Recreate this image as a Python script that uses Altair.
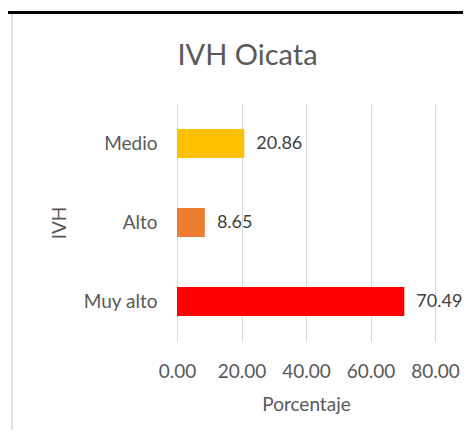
import altair as alt
import pandas as pd

categorias = ["Medio", "Alto", "Muy alto"]
porcentajes = [20.86, 8.65, 70.49]
colores = ["#FFC000", "#ED7D31", "#FF0000"]
ticks_x = [0, 20, 40, 60, 80]
titulo = "IVH Oicata"

df = pd.DataFrame({"IVH": categorias, "Porcentaje": porcentajes, "color": colores})

FONT = "Lato"
GRAY = "#595959"
W, H = 258, 237

y = alt.Y(
    "IVH:N",
    sort=categorias,
    scale=alt.Scale(paddingInner=0.633, paddingOuter=0.3165),
    axis=alt.Axis(
        title="IVH", labelFont=FONT, labelFontSize=19, labelColor=GRAY,
        labelPadding=20, ticks=False, tickSize=0, domain=False, grid=False,
        titleFont=FONT, titleFontSize=19, titleFontWeight="normal", titleColor=GRAY,
        titleAngle=-90, titleX=-112, titleY=118.5, titleAlign="center",
        titleBaseline="alphabetic",
    ),
)
x = alt.X(
    "Porcentaje:Q",
    scale=alt.Scale(domain=[0, 80], nice=False),
    axis=alt.Axis(
        values=ticks_x, format=".2f", grid=True, gridColor="#D9D9D9", gridWidth=1,
        ticks=False, tickSize=0, domain=False, labelOverlap=False, labelFlush=False,
        labelFont=FONT, labelFontSize=19, labelColor=GRAY, labelBaseline="alphabetic",
        labelPadding=36,
        title="Porcentaje", titleFont=FONT, titleFontSize=19, titleFontWeight="normal",
        titleColor=GRAY, titleX=129, titleY=69, titleAlign="center",
        titleBaseline="alphabetic",
    ),
)

base = alt.Chart(df)
bars = base.mark_bar().encode(x=x, y=y, color=alt.Color("color:N", scale=None))
labels = base.mark_text(
    align="left", baseline="middle", dx=12, font=FONT, fontSize=18, color="#404040"
).encode(
    x=alt.X("Porcentaje:Q"), y=alt.Y("IVH:N", sort=categorias),
    text=alt.Text("Porcentaje:Q", format=".2f"),
)

one = pd.DataFrame({"t": [titulo]})
title_mark = alt.Chart(one).mark_text(
    align="center", baseline="alphabetic", font=FONT, fontSize=29, color=GRAY
).encode(text="t:N", x=alt.value(70.5), y=alt.value(-39))

top_line = alt.Chart(one).mark_rule(color="black", strokeWidth=3).encode(
    x=alt.value(-169), x2=alt.value(286), y=alt.value(-91.5)
)
left_line = alt.Chart(one).mark_rule(color="#D9D9D9", strokeWidth=1.5).encode(
    x=alt.value(-165), y=alt.value(-90), y2=alt.value(330)
)

chart = alt.layer(top_line, left_line, title_mark, bars, labels).properties(
    width=W, height=H,
    padding={"left": 169, "top": 96, "right": 28, "bottom": 89},
    autosize=alt.AutoSizeParams(type="none"),
).configure_view(stroke=None)

chart.save("out.html", embed_options={"renderer": "svg", "actions": False})
